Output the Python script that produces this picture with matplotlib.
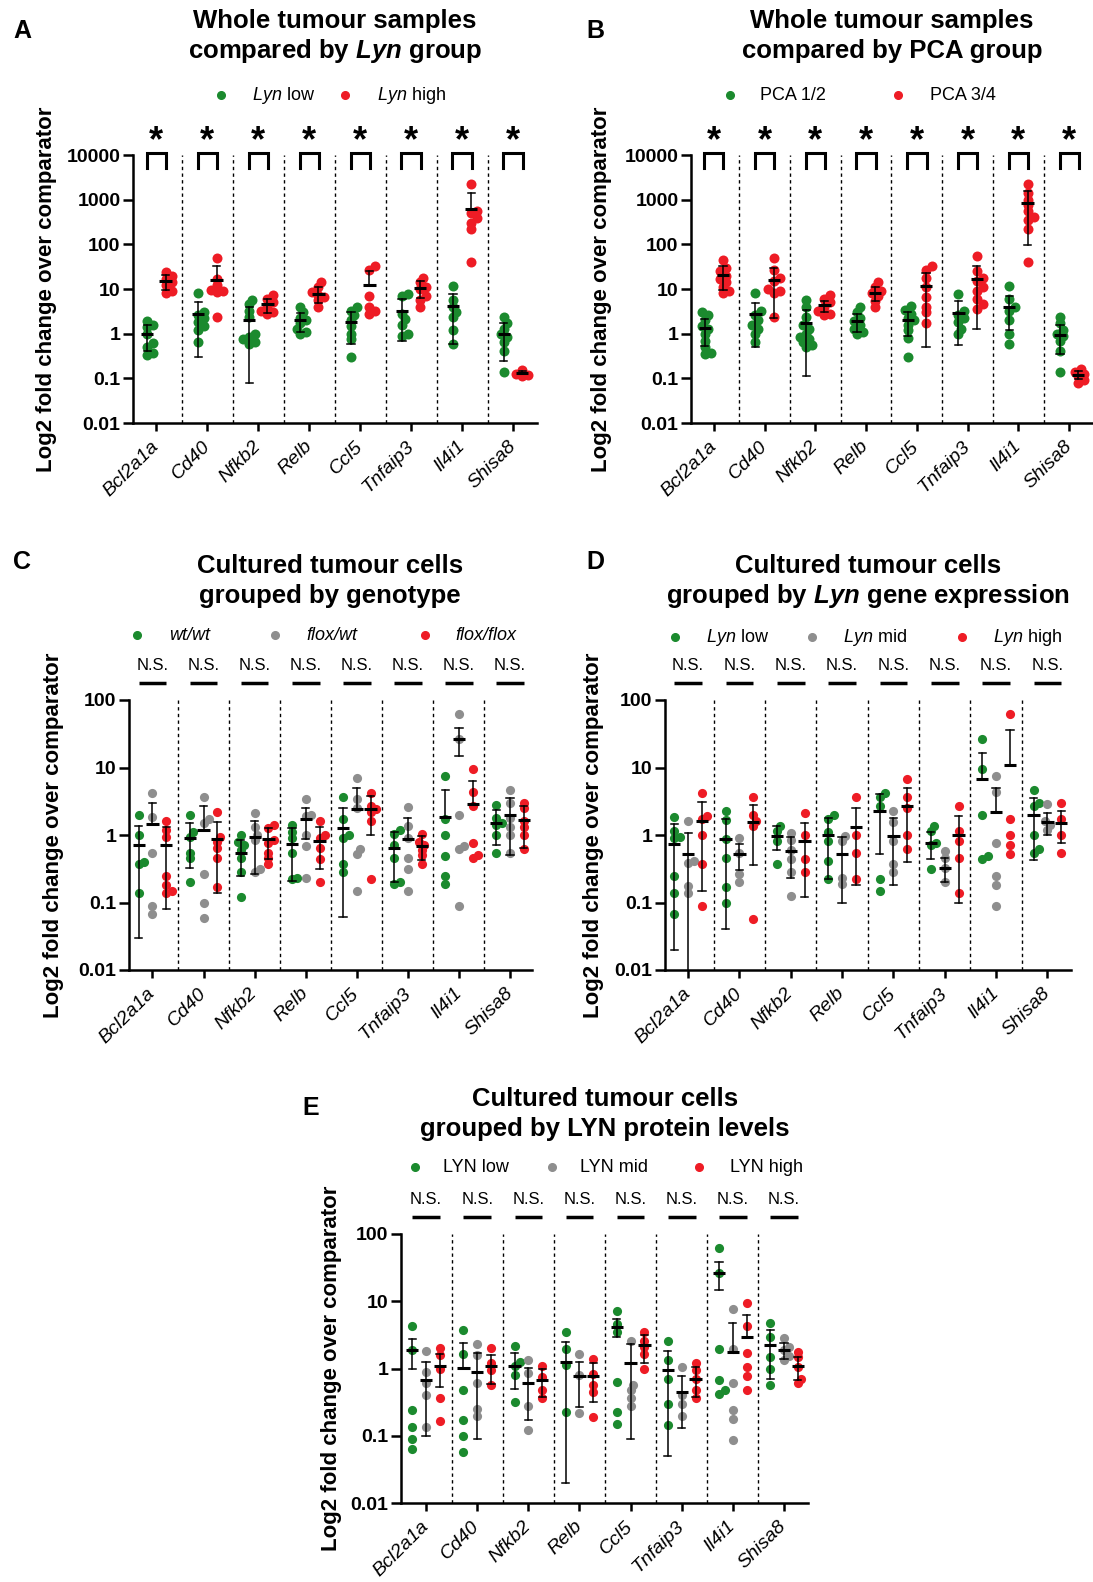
import numpy as np
import matplotlib
matplotlib.use('Agg')
import matplotlib.pyplot as plt
from matplotlib.lines import Line2D
from matplotlib.ticker import FixedLocator, NullLocator

plt.rcParams['font.family'] = ['Liberation Sans', 'DejaVu Sans']
plt.rcParams['mathtext.fontset'] = 'custom'
plt.rcParams['mathtext.rm'] = 'Liberation Sans'
plt.rcParams['mathtext.it'] = 'Liberation Sans:italic'
plt.rcParams['mathtext.bf'] = 'Liberation Sans:italic:bold'

# ---------------- data ----------------
genes = ['Bcl2a1a', 'Cd40', 'Nfkb2', 'Relb', 'Ccl5', 'Tnfaip3', 'Il4i1', 'Shisa8']
ticks_big = [0.01, 0.1, 1, 10, 100, 1000, 10000]
ticks_big_lbl = ['0.01', '0.1', '1', '10', '100', '1000', '10000']
ticks_small = [0.01, 0.1, 1, 10, 100]
ticks_small_lbl = ['0.01', '0.1', '1', '10', '100']

# Panel A: Lyn low / Lyn high
A_low_pts = [[1.9, 1.6, 1.4, 1.0, 0.62, 0.5, 0.37, 0.34],
             [8.2, 3.0, 2.6, 2.2, 1.8, 1.5, 1.2, 0.65],
             [5.8, 4.5, 3.3, 2.4, 1.0, 0.85, 0.75, 0.65, 0.6],
             [3.9, 3.0, 2.3, 2.0, 1.7, 1.3, 1.1, 1.0],
             [4.0, 3.3, 2.6, 2.0, 1.5, 1.0, 0.75, 0.3],
             [7.6, 7.0, 2.8, 2.1, 1.6, 1.0, 0.9],
             [11.7, 5.8, 4.0, 3.1, 2.4, 1.2, 0.6],
             [2.4, 1.7, 1.3, 1.0, 0.85, 0.65, 0.4, 0.14]]
A_low_mean = [1.0, 2.7, 2.0, 2.0, 1.8, 3.3, 4.2, 1.0]
A_low_sd = [0.6, 2.4, 1.92, 0.9, 1.2, 2.6, 3.6, 0.75]
A_high_pts = [[24, 20, 17, 14, 12, 9, 8],
              [50, 17, 12, 9.5, 9, 8.5, 2.4],
              [7.2, 6.0, 5.0, 4.0, 3.3, 3.0, 2.8],
              [14, 11, 8.6, 7.5, 6.5, 5.6, 4.0],
              [32, 26, 7, 4, 3.3, 2.8],
              [18, 14, 11, 10, 7, 5.6, 4],
              [2200, 550, 500, 380, 300, 225, 40],
              [0.15, 0.14, 0.13, 0.125, 0.12, 0.115]]
A_high_mean = [15, 16, 4.5, 7.9, 12.3, 10.7, 620, 0.134]
A_high_sd = [5.5, 16.5, 1.6, 3.1, 12.5, 4.5, 810, 0.012]

# Panel B: PCA 1/2 / PCA 3/4
B_12_pts = [[3.0, 2.6, 2.0, 1.5, 1.3, 1.0, 0.7, 0.5, 0.36, 0.35],
            [8.2, 3.2, 2.6, 2.0, 1.6, 1.3, 1.0, 0.65],
            [5.8, 4.0, 2.4, 1.6, 1.3, 1.0, 0.85, 0.75, 0.65, 0.55, 0.5],
            [3.9, 3.0, 2.3, 1.9, 1.6, 1.3, 1.1, 1.0],
            [4.1, 3.4, 2.8, 2.2, 2.0, 1.6, 1.2, 0.8, 0.3],
            [7.6, 3.2, 2.6, 2.2, 1.8, 1.3, 1.0],
            [11.7, 6.0, 4.0, 3.3, 2.0, 1.0, 0.6],
            [2.4, 1.7, 1.2, 1.0, 0.9, 0.7, 0.4, 0.14]]
B_12_mean = [1.34, 2.7, 1.73, 1.9, 2.0, 2.95, 4.0, 0.95]
B_12_sd = [0.8, 2.2, 1.62, 0.8, 1.1, 2.4, 2.8, 0.6]
B_34_pts = [[45, 30, 25, 20, 17, 14, 11, 9, 8],
            [50, 27, 18, 15, 10, 9, 8, 2.4],
            [7.2, 6.0, 5.0, 4.0, 3.2, 2.8, 2.6],
            [14, 11, 9, 8, 7, 5.5, 4],
            [32, 26, 18, 11, 6.5, 4, 3, 1.7],
            [55, 25, 18, 15, 11, 9, 6, 4.5, 3.6],
            [2300, 1400, 1000, 750, 550, 400, 350, 225, 40],
            [0.16, 0.14, 0.125, 0.11, 0.09, 0.08]]
B_34_mean = [21, 16.2, 4.3, 8.3, 11.4, 17, 830, 0.12]
B_34_sd = [11.7, 14, 1.2, 3.0, 10.9, 15.7, 735, 0.025]

# Panel C: wt/wt, flox/wt, flox/flox
C_wt_pts = [[2.0, 1.0, 0.4, 0.37, 0.14],
            [2.0, 1.1, 0.95, 0.55, 0.45, 0.2],
            [1.0, 0.8, 0.7, 0.6, 0.45, 0.28, 0.12],
            [1.4, 1.1, 0.9, 0.55, 0.23, 0.22],
            [3.6, 1.75, 1.0, 0.9, 0.37, 0.28],
            [1.2, 1.05, 0.7, 0.45, 0.2, 0.19],
            [7.5, 1.75, 1.0, 0.49, 0.25, 0.19],
            [2.8, 1.8, 1.5, 1.4, 1.0, 0.55]]
C_wt_mean = [0.70, 0.91, 0.55, 0.73, 1.28, 0.65, 1.85, 1.52]
C_wt_sd = [0.67, 0.58, 0.3, 0.52, 1.22, 0.45, 2.85, 0.8]
C_fw_pts = [[4.2, 1.85, 0.55, 0.09, 0.067],
            [3.7, 1.7, 1.5, 0.26, 0.1, 0.058],
            [2.1, 1.3, 1.0, 0.85, 0.31, 0.28],
            [3.4, 2.0, 1.9, 1.0, 0.68, 0.23],
            [7.0, 3.4, 2.5, 0.61, 0.52, 0.15],
            [2.6, 1.36, 0.9, 0.46, 0.31, 0.15],
            [61, 26, 2.0, 0.69, 0.61, 0.088],
            [4.6, 3.0, 1.8, 1.3, 1.0, 0.55]]
C_fw_mean = [1.44, 1.2, 0.93, 1.7, 2.4, 0.88, 26.7, 2.0]
C_fw_sd = [1.56, 1.5, 0.67, 0.84, 2.6, 0.92, 12, 1.5]
C_ff_pts = [[1.6, 1.2, 0.95, 0.25, 0.18, 0.15, 0.14],
            [2.2, 0.95, 0.8, 0.65, 0.45, 0.17],
            [1.4, 1.25, 0.85, 0.75, 0.55, 0.45, 0.37],
            [1.6, 1.0, 0.9, 0.65, 0.44, 0.2],
            [4.2, 2.7, 2.4, 2.2, 1.6, 0.22],
            [1.05, 0.8, 0.7, 0.6, 0.5, 0.37],
            [9.4, 4.3, 2.7, 0.77, 0.5, 0.46],
            [3.0, 2.5, 1.6, 1.3, 1.0, 0.61]]
C_ff_mean = [0.70, 0.86, 0.86, 0.81, 2.4, 0.69, 2.9, 1.65]
C_ff_sd = [0.62, 0.72, 0.42, 0.5, 1.4, 0.27, 3.4, 1.0]

# Panel D: Lyn low / mid / high
D_low_pts = [[1.85, 1.15, 0.95, 0.9, 0.25, 0.14, 0.067],
             [2.27, 1.65, 0.88, 0.46, 0.17, 0.1],
             [1.36, 1.15, 0.81, 0.37],
             [1.95, 1.7, 1.1, 0.81, 0.41, 0.22],
             [4.2, 3.7, 2.7, 0.22, 0.15],
             [1.36, 1.15, 0.77, 0.7, 0.31],
             [26, 9.6, 2.0, 0.49, 0.44],
             [4.7, 3.0, 2.7, 1.0, 0.61, 0.55]]
D_low_mean = [0.73, 0.88, 0.97, 1.0, 2.27, 0.77, 6.8, 2.0]
D_low_sd = [0.71, 0.84, 0.37, 0.78, 1.75, 0.33, 9.8, 1.58]
D_mid_pts = [[1.6, 0.41, 0.38, 0.176, 0.14],
             [0.91, 0.55, 0.26, 0.2],
             [1.08, 0.85, 0.6, 0.44, 0.28, 0.125],
             [0.97, 0.82, 0.23, 0.19],
             [2.27, 1.56, 0.81, 0.37, 0.28],
             [0.58, 0.45, 0.33, 0.2],
             [7.5, 4.3, 0.75, 0.25, 0.18, 0.088],
             [2.85, 1.6, 1.39, 1.2]]
D_mid_mean = [0.53, 0.52, 0.58, 0.52, 0.97, 0.33, 2.2, 1.56]
D_mid_sd = [0.525, 0.22, 0.35, 0.42, 0.79, 0.13, 2.8, 0.56]
D_high_pts = [[4.2, 1.9, 1.7, 1.0, 0.37, 0.09],
              [3.66, 1.95, 1.6, 1.36, 0.056],
              [2.1, 1.0, 0.44, 0.28],
              [3.6, 1.0, 0.55, 0.22],
              [6.8, 3.6, 2.5, 1.0, 0.61],
              [2.7, 1.15, 0.81, 0.46, 0.14],
              [61, 1.7, 1.0, 0.7, 0.52],
              [3.0, 1.7, 1.0, 0.55]]
D_high_mean = [1.6, 1.56, 0.81, 1.33, 2.7, 1.0, 10.9, 1.52]
D_high_sd = [1.45, 1.2, 0.69, 1.15, 2.3, 0.9, 25, 0.75]

# Panel E: LYN low / mid / high
E_low_pts = [[4.27, 1.87, 0.245, 0.135, 0.088, 0.063],
             [3.7, 1.63, 0.48, 0.17, 0.098, 0.057],
             [2.15, 1.26, 1.1, 0.8, 0.32],
             [3.5, 1.98, 1.12, 0.225],
             [7.1, 4.6, 3.5, 0.63, 0.225, 0.15],
             [2.6, 1.33, 0.7, 0.3, 0.143],
             [61, 26.6, 1.98, 0.68, 0.48, 0.42],
             [4.68, 2.96, 1.5, 1.0, 0.56]]
E_low_mean = [1.87, 1.03, 1.1, 1.26, 4.17, 0.95, 26.6, 2.2]
E_low_sd = [0.9, 1.4, 0.6, 1.24, 1.2, 0.9, 12, 1.5]
E_mid_pts = [[1.8, 0.89, 0.6, 0.4, 0.135],
             [2.3, 1.58, 0.6, 0.25, 0.2],
             [1.36, 0.86, 0.28, 0.12],
             [1.63, 0.8, 0.22],
             [2.6, 0.56, 0.48, 0.36, 0.28],
             [1.06, 0.4, 0.3, 0.2],
             [7.6, 1.98, 0.6, 0.245, 0.18, 0.085],
             [2.8, 2.1, 1.87, 1.53, 1.33]]
E_mid_mean = [0.68, 0.89, 0.6, 0.77, 1.19, 0.45, 1.77, 1.87]
E_mid_sd = [0.58, 0.8, 0.43, 0.5, 1.1, 0.32, 2.9, 0.5]
E_high_pts = [[2.0, 1.58, 1.0, 0.36, 0.165],
              [2.0, 1.2, 0.95, 0.56],
              [1.08, 0.75, 0.48, 0.36],
              [1.4, 0.84, 0.56, 0.45, 0.19],
              [3.5, 2.6, 2.1, 1.67, 1.0],
              [1.19, 0.94, 0.71, 0.48, 0.36],
              [9.3, 4.27, 1.7, 1.06, 0.77, 0.48],
              [1.77, 1.46, 1.06, 0.71, 0.6]]
E_high_mean = [1.08, 1.08, 0.68, 0.77, 2.2, 0.71, 2.96, 1.08]
E_high_sd = [0.55, 0.5, 0.3, 0.45, 1.0, 0.33, 3.3, 0.4]

# ---------------- style ----------------
GREEN = '#1b8a2e'
RED = '#ee1c25'
GRAY = '#8e8e8e'

W, H = 1093, 1582
fig = plt.figure(figsize=(W / 100, H / 100), dpi=100)


def fx(px):
    return px / W


def fy(py):
    return 1 - py / H


def fline(xs, ys, **kw):
    fig.add_artist(Line2D([fx(x) for x in xs], [fy(y) for y in ys],
                          transform=fig.transFigure, **kw))


def data_to_px_x(ax, x):
    return ax.transData.transform((x, 1.0))[0]


def swarm(ax, xc, vals, dpx):
    tr = ax.transData
    inv = tr.inverted()
    x0 = tr.transform((xc, 1.0))[0]
    ys = [tr.transform((xc, v))[1] for v in vals]
    order = np.argsort(ys)
    placed = []
    out = [xc] * len(vals)
    step = dpx * 0.3
    thr = dpx * 0.55
    for i in order:
        y = ys[i]
        xp = x0
        for k in [0, 1, -1, 2, -2, 3, -3]:
            cand = x0 + k * step
            if all((cand - px) ** 2 + (y - py) ** 2 >= thr ** 2 for px, py in placed):
                xp = cand
                break
        placed.append((xp, y))
        out[i] = inv.transform((xp, y))[0]
    return out


def make_panel(box, xlim, ylim, yticks, ylbls, groups, ms, ylab_x):
    l, t, r, b = box
    ax = fig.add_axes([fx(l), fy(b), (r - l) / W, (b - t) / H])
    ax.set_yscale('log')
    ax.set_ylim(*ylim)
    ax.set_xlim(*xlim)
    for s in ['top', 'right']:
        ax.spines[s].set_visible(False)
    for s in ['left', 'bottom']:
        ax.spines[s].set_linewidth(1.8)
    ax.yaxis.set_major_locator(FixedLocator(yticks))
    ax.yaxis.set_minor_locator(NullLocator())
    ax.set_yticklabels(ylbls, fontsize=14, fontweight='bold')
    ax.set_xticks(range(len(genes)))
    ax.set_xticklabels(genes, fontsize=14, fontstyle='italic', rotation=45,
                       ha='right', va='center', rotation_mode='anchor')
    ax.xaxis.set_minor_locator(NullLocator())
    ax.tick_params(axis='y', length=7, width=1.8, pad=2)
    ax.tick_params(axis='x', length=6, width=1.8, pad=9)
    ax.set_ylabel('Log2 fold change over comparator', fontsize=16,
                  fontweight='bold', va='center')
    ax.yaxis.set_label_coords((ylab_x - l) / (r - l), 0.5)
    for i in range(len(genes) - 1):
        ax.axvline(i + 0.5, color='black', lw=1.0, ls=(0, (2.4, 2.4)), zorder=1)
    dpx = ms * 100 / 72
    for pts, mean, sd, col, off in groups:
        for gi in range(len(genes)):
            xc = gi + off
            xs = swarm(ax, xc, pts[gi], dpx)
            ax.scatter(xs, pts[gi], s=ms ** 2, color=col, linewidths=0, zorder=3)
            m = mean[gi]
            s_ = sd[gi]
            up = m + s_
            lo = m - s_
            ax.plot([xc - 0.12, xc + 0.12], [m, m], color='black', lw=2.2,
                    solid_capstyle='butt', zorder=5)
            ax.plot([xc, xc], [lo if lo > 0 else m, up], color='black', lw=1.1, zorder=4)
            ax.plot([xc - 0.07, xc + 0.07], [up, up], color='black', lw=1.1, zorder=4)
            if lo > 0:
                ax.plot([xc - 0.07, xc + 0.07], [lo, lo], color='black', lw=1.1, zorder=4)
    return ax


def title2(cx, y1, y2, l1, l2):
    fig.text(fx(cx), fy(y1), l1, fontsize=18.5, fontweight='bold', ha='center', va='center')
    fig.text(fx(cx), fy(y2), l2, fontsize=18.5, fontweight='bold', ha='center', va='center')


def legend(y, items):
    for mx, tx, col, lab, it in items:
        fig.add_artist(Line2D([fx(mx)], [fy(y)], marker='o', ms=5.5, color=col,
                              ls='none', transform=fig.transFigure))
        fig.text(fx(tx), fy(y), lab, fontsize=13, ha='left', va='center',
                 fontstyle='italic' if it else 'normal')


def stars(ax, off, y_star, y_top, y_bot):
    for gi in range(len(genes)):
        x1 = data_to_px_x(ax, gi - off)
        x2 = data_to_px_x(ax, gi + off)
        xc = data_to_px_x(ax, gi)
        fline([x1, x1, x2, x2], [y_bot, y_top, y_top, y_bot], color='black', lw=2.2,
              solid_joinstyle='miter')
        fig.text(fx(xc), fy(y_star), '*', fontsize=26, fontweight='bold',
                 ha='center', va='baseline')


def ns(ax, off, y_txt, y_line):
    for gi in range(len(genes)):
        x1 = data_to_px_x(ax, gi - off)
        x2 = data_to_px_x(ax, gi + off)
        xc = data_to_px_x(ax, gi)
        fline([x1, x2], [y_line, y_line], color='black', lw=2.5, solid_capstyle='butt')
        fig.text(fx(xc), fy(y_txt), 'N.S.', fontsize=12, ha='center', va='center')


# ---------------- panels ----------------
axA = make_panel((133, 155, 537, 423), (-0.46, 7.47), (0.01, 10000), ticks_big, ticks_big_lbl,
                 [(A_low_pts, A_low_mean, A_low_sd, GREEN, -0.18),
                  (A_high_pts, A_high_mean, A_high_sd, RED, 0.18)], 7.2, 47)
axB = make_panel((691, 155, 1093, 423), (-0.45, 7.47), (0.01, 10000), ticks_big, ticks_big_lbl,
                 [(B_12_pts, B_12_mean, B_12_sd, GREEN, -0.18),
                  (B_34_pts, B_34_mean, B_34_sd, RED, 0.18)], 7.2, 601)
axC = make_panel((129, 700, 532, 970), (-0.46, 7.43), (0.01, 100), ticks_small, ticks_small_lbl,
                 [(C_wt_pts, C_wt_mean, C_wt_sd, GREEN, -0.27),
                  (C_fw_pts, C_fw_mean, C_fw_sd, GRAY, 0.0),
                  (C_ff_pts, C_ff_mean, C_ff_sd, RED, 0.27)], 6.6, 54)
axD = make_panel((665, 700, 1071, 970), (-0.45, 7.46), (0.01, 100), ticks_small, ticks_small_lbl,
                 [(D_low_pts, D_low_mean, D_low_sd, GREEN, -0.27),
                  (D_mid_pts, D_mid_mean, D_mid_sd, GRAY, 0.0),
                  (D_high_pts, D_high_mean, D_high_sd, RED, 0.27)], 6.6, 594)
axE = make_panel((401, 1234, 808, 1503), (-0.49, 7.47), (0.01, 100), ticks_small, ticks_small_lbl,
                 [(E_low_pts, E_low_mean, E_low_sd, GREEN, -0.27),
                  (E_mid_pts, E_mid_mean, E_mid_sd, GRAY, 0.0),
                  (E_high_pts, E_high_mean, E_high_sd, RED, 0.27)], 6.6, 331)

# titles
title2(335, 21, 51, 'Whole tumour samples', r'compared by $\mathbf{Lyn}$ group')
title2(892, 21, 51, 'Whole tumour samples', 'compared by PCA group')
title2(330, 566, 596, 'Cultured tumour cells', 'grouped by genotype')
title2(868, 566, 596, 'Cultured tumour cells', r'grouped by $\mathbf{Lyn}$ gene expression')
title2(605, 1099, 1129, 'Cultured tumour cells', 'grouped by LYN protein levels')

# panel letters
for letter, (px, py) in zip('ABCDE', [(22, 31), (595, 31), (22, 562), (595, 562), (311, 1108)]):
    fig.text(fx(px), fy(py), letter, fontsize=18, fontweight='bold', ha='center', va='center')

# legends
legend(95, [(220.7, 252, GREEN, r'$\mathit{Lyn}$ low', False),
            (345, 377, RED, r'$\mathit{Lyn}$ high', False)])
legend(95, [(729.5, 760, GREEN, 'PCA 1/2', False),
            (898, 929.5, RED, 'PCA 3/4', False)])
legend(635, [(137, 169.6, GREEN, 'wt/wt', True),
             (274.6, 306, GRAY, 'flox/wt', True),
             (424.7, 455.3, RED, 'flox/flox', True)])
legend(637, [(675, 706, GREEN, r'$\mathit{Lyn}$ low', False),
             (812, 843, GRAY, r'$\mathit{Lyn}$ mid', False),
             (961.6, 993, RED, r'$\mathit{Lyn}$ high', False)])
legend(1167, [(415, 443, GREEN, 'LYN low', False),
              (552, 580, GRAY, 'LYN mid', False),
              (699, 730, RED, 'LYN high', False)])

# significance annotations
stars(axA, 0.19, 151, 153, 168)
stars(axB, 0.19, 151, 153, 168)
ns(axC, 0.27, 665, 683)
ns(axD, 0.27, 666, 683)
ns(axE, 0.27, 1200, 1217)

fig.savefig('out.png', dpi=100)
